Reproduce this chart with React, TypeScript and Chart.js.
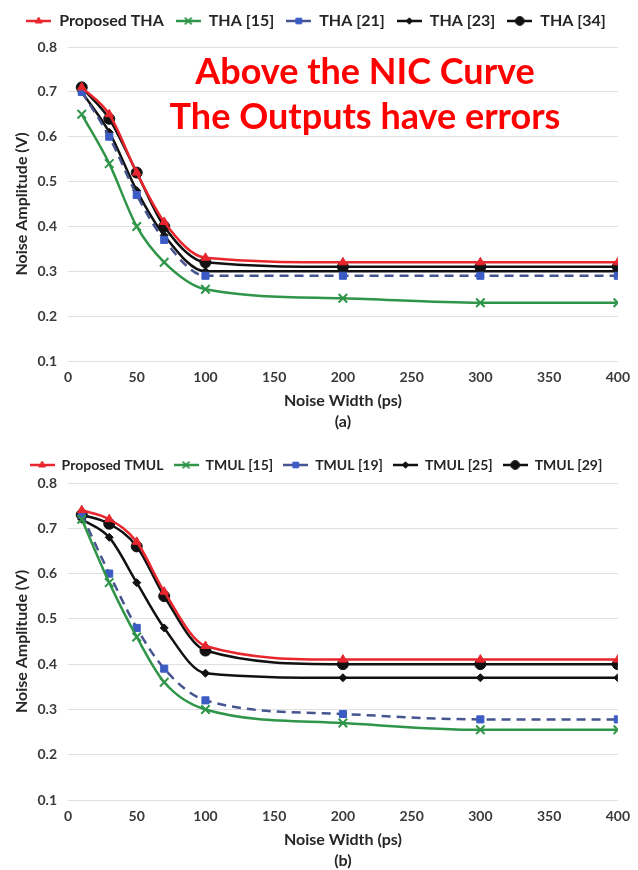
import React, { useEffect, useRef } from 'react';
import { Chart, registerables } from 'chart.js';
import { drawPoint } from 'chart.js/helpers';

Chart.register(...registerables);

// ---------- data ----------
const noiseWidths = [10, 30, 50, 70, 100, 200, 300, 400];

const thaLabels = ['Proposed THA', 'THA [15]', 'THA [21]', 'THA [23]', 'THA [34]'];
const thaProposed = [0.71, 0.65, 0.52, 0.41, 0.33, 0.32, 0.32, 0.32];
const tha15 = [0.65, 0.54, 0.40, 0.32, 0.26, 0.24, 0.23, 0.23];
const tha21 = [0.70, 0.60, 0.47, 0.37, 0.29, 0.29, 0.29, 0.29];
const tha23 = [0.70, 0.61, 0.48, 0.38, 0.30, 0.30, 0.30, 0.30];
const tha34 = [0.71, 0.64, 0.52, 0.40, 0.32, 0.31, 0.31, 0.31];

const tmulLabels = ['Proposed TMUL', 'TMUL [15]', 'TMUL [19]', 'TMUL [25]', 'TMUL [29]'];
const tmulProposed = [0.74, 0.72, 0.67, 0.56, 0.44, 0.41, 0.41, 0.41];
const tmul15 = [0.72, 0.58, 0.46, 0.36, 0.30, 0.27, 0.255, 0.255];
const tmul19 = [0.73, 0.60, 0.48, 0.39, 0.32, 0.29, 0.278, 0.278];
const tmul25 = [0.72, 0.68, 0.58, 0.48, 0.38, 0.37, 0.37, 0.37];
const tmul29 = [0.73, 0.71, 0.66, 0.55, 0.43, 0.40, 0.40, 0.40];

const xMin = 0;
const xMax = 400;
const xStep = 50;
const yMin = 0.1;
const yMax = 0.8;
const yStep = 0.1;

const annotationLines = ['Above the NIC Curve', 'The Outputs have errors'];

// ---------- styles ----------
type SeriesStyle = {
  line: string;
  marker: string;
  pointStyle: string;
  radius: number;
  dash: number[];
};

const seriesStyles: SeriesStyle[] = [
  { line: '#e8262e', marker: '#e8262e', pointStyle: 'triangle', radius: 5, dash: [] },
  { line: '#2f9548', marker: '#2f9548', pointStyle: 'crossRot', radius: 6, dash: [] },
  { line: '#46558f', marker: '#3b5cc4', pointStyle: 'rect', radius: 5, dash: [9, 6] },
  { line: '#111111', marker: '#111111', pointStyle: 'rectRot', radius: 4, dash: [] },
  { line: '#111111', marker: '#111111', pointStyle: 'circle', radius: 5.5, dash: [] },
];

const FONT = 'Lato, "Open Sans", sans-serif';

function legendIcon(s: SeriesStyle): HTMLCanvasElement {
  const c = document.createElement('canvas');
  c.width = 25;
  c.height = 14;
  const ctx = c.getContext('2d')!;
  ctx.strokeStyle = s.line;
  ctx.lineWidth = 2.5;
  ctx.beginPath();
  ctx.moveTo(0, 7);
  ctx.lineTo(25, 7);
  ctx.stroke();
  ctx.fillStyle = s.marker;
  ctx.strokeStyle = s.marker;
  ctx.lineWidth = s.pointStyle === 'crossRot' ? 1.8 : 1;
  drawPoint(ctx, { pointStyle: s.pointStyle as any, radius: s.radius * 0.8, rotation: 0, borderWidth: ctx.lineWidth }, 12.5, 7);
  return c;
}

type Layout = { topPad: number; legendPad: number; legendFont: number; spacer: number };

function buildConfig(labels: string[], series: number[][], caption: string, lay: Layout): any {
  const datasets = series.map((vals, i) => {
    const s = seriesStyles[i];
    return {
      label: labels[i],
      data: vals.map((v, j) => ({ x: noiseWidths[j], y: v })),
      borderColor: s.line,
      backgroundColor: s.marker,
      pointBackgroundColor: s.marker,
      pointBorderColor: s.marker,
      pointStyle: s.pointStyle,
      pointRadius: s.radius,
      pointBorderWidth: s.pointStyle === 'crossRot' ? 2 : 1,
      borderWidth: 2.5,
      borderDash: s.dash,
      cubicInterpolationMode: 'monotone',
      fill: false,
    };
  });
  return {
    type: 'line',
    data: { datasets },
    options: {
      responsive: false,
      animation: false,
      layout: { padding: { top: lay.topPad, left: 12, right: 18, bottom: 0 } },
      plugins: {
        tooltip: { enabled: false },
        subtitle: {
          display: true,
          text: ' ',
          weight: 500,
          font: { size: 1, lineHeight: 1 },
          padding: { top: 0, bottom: lay.spacer },
        },
        legend: {
          display: true,
          position: 'top',
          labels: {
            usePointStyle: true,
            pointStyleWidth: 25,
            boxHeight: 14,
            padding: lay.legendPad,
            color: '#262626',
            font: { family: FONT, size: lay.legendFont, weight: 'bold' },
            generateLabels: (chart: any) =>
              chart.data.datasets.map((d: any, i: number) => ({
                text: d.label,
                pointStyle: legendIcon(seriesStyles[i]),
                fillStyle: seriesStyles[i].marker,
                strokeStyle: seriesStyles[i].line,
                lineWidth: 0,
                hidden: false,
                datasetIndex: i,
                fontColor: '#262626',
              })),
          },
        },
      },
      scales: {
        x: {
          type: 'linear',
          min: xMin,
          max: xMax,
          ticks: {
            stepSize: xStep,
            color: '#3a3a3a',
            font: { family: FONT, size: 14, weight: 'bold' },
            padding: 8,
          },
          grid: { display: false, drawTicks: false },
          border: { display: false },
          title: {
            display: true,
            text: ['Noise Width (ps)', caption],
            color: '#262626',
            font: { family: FONT, size: 16, weight: 'bold', lineHeight: 1.35 },
            padding: { top: -4, bottom: 0 },
          },
        },
        y: {
          type: 'linear',
          min: yMin,
          max: yMax,
          afterFit: (scale: any) => {
            scale.width = 56;
          },
          ticks: {
            stepSize: yStep,
            color: '#3a3a3a',
            font: { family: FONT, size: 14, weight: 'bold' },
            padding: 11,
            callback: (v: any) => Number(v).toFixed(1),
          },
          grid: { color: '#e0e0e0', lineWidth: 1, drawTicks: false },
          border: { display: false },
          title: {
            display: true,
            text: 'Noise Amplitude (V)',
            color: '#262626',
            font: { family: FONT, size: 16, weight: 'bold' },
            padding: { top: 0, bottom: 0 },
          },
        },
      },
    },
  };
}

function LineChart({ labels, series, caption, width, height, lay }: any) {
  const ref = useRef<HTMLCanvasElement>(null);
  useEffect(() => {
    const chart = new Chart(ref.current!, buildConfig(labels, series, caption, lay));
    return () => chart.destroy();
  }, []);
  return <canvas ref={ref} width={width} height={height} style={{ display: 'block' }} />;
}

export default function App() {
  return (
    <div
      style={{
        position: 'absolute',
        left: 0,
        top: 0,
        width: 638,
        height: 870,
        background: '#fff',
        overflow: 'hidden',
      }}
    >
      <div style={{ position: 'absolute', left: 0, top: 0 }}>
        <LineChart
          labels={thaLabels}
          series={[thaProposed, tha15, tha21, tha23, tha34]}
          caption="(a)"
          width={638}
          height={433}
          lay={{ topPad: 1, legendPad: 12, legendFont: 16, spacer: 7 }}
        />
      </div>
      <div
        style={{
          position: 'absolute',
          left: 165,
          top: 48,
          width: 400,
          textAlign: 'center',
          color: '#ff0000',
          fontFamily: FONT,
          fontWeight: 'bold',
          fontSize: 36,
          lineHeight: '45px',
          whiteSpace: 'nowrap',
        }}
      >
        {annotationLines.map((t) => (
          <div key={t}>{t}</div>
        ))}
      </div>
      <div style={{ position: 'absolute', left: 0, top: 440 }}>
        <LineChart
          labels={tmulLabels}
          series={[tmulProposed, tmul15, tmul19, tmul25, tmul29]}
          caption="(b)"
          width={638}
          height={432}
          lay={{ topPad: 8, legendPad: 10, legendFont: 14, spacer: 0 }}
        />
      </div>
    </div>
  );
}
